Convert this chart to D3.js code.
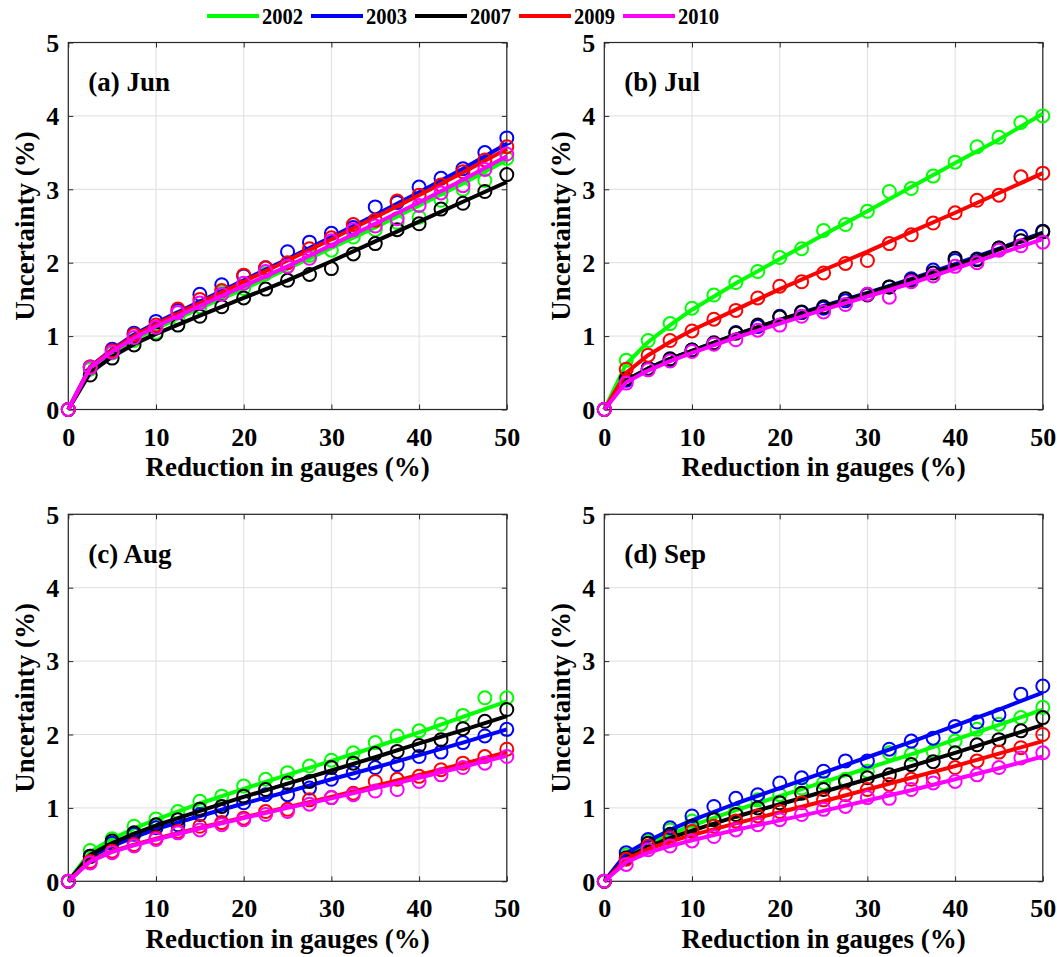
<!DOCTYPE html>
<html>
<head>
<meta charset="utf-8">
<script src="https://cdn.jsdelivr.net/npm/d3@7"></script>
<style>
  html, body { margin: 0; padding: 0; background: #ffffff; }
  svg { display: block; }
  text { font-family: "Liberation Serif", "Times New Roman", serif; font-weight: bold; fill: #000; }
</style>
</head>
<body>
<svg id="chart" width="1057" height="957"></svg>
<script>
// ---------------- data ----------------
const years = ["2002", "2003", "2007", "2009", "2010"];
const colors = ["#00ff00", "#0000ff", "#000000", "#ff0000", "#ff00ff"];
const panelLabels = ["(a) Jun", "(b) Jul", "(c) Aug", "(d) Sep"];
const xTicks = [0, 10, 20, 30, 40, 50];
const yTicks = [0, 1, 2, 3, 4, 5];
const xLabel = "Reduction in gauges (%)";
const yLabel = "Uncertainty (%)";

// observed points (circles)
const xPoints = [0, 2.5, 5, 7.5, 10, 12.5, 15, 17.5, 20, 22.5, 25, 27.5, 30, 32.5, 35, 37.5, 40, 42.5, 45, 47.5, 50];
// fitted curves (lines)
const xFit = [0, 2.5, 5, 7.5, 10, 15, 20, 25, 30, 35, 40, 45, 50];

const jun2002 = [0,0.55,0.77,0.94,1.05,1.25,1.40,1.60,1.65,1.85,1.95,2.10,2.17,2.35,2.45,2.55,2.62,2.85,3.00,3.12,3.42];
const jun2003 = [0,0.58,0.82,1.04,1.20,1.35,1.57,1.70,1.82,1.93,2.15,2.28,2.40,2.48,2.76,2.82,3.03,3.15,3.28,3.50,3.70];
const jun2007 = [0,0.47,0.70,0.88,1.03,1.15,1.27,1.40,1.52,1.64,1.76,1.84,1.92,2.12,2.26,2.45,2.53,2.73,2.81,2.97,3.20];
const jun2009 = [0,0.58,0.80,1.02,1.15,1.37,1.50,1.62,1.83,1.93,2.00,2.19,2.34,2.52,2.58,2.84,2.92,3.06,3.24,3.40,3.58];
const jun2010 = [0,0.57,0.78,0.98,1.12,1.32,1.45,1.57,1.72,1.88,1.95,2.06,2.30,2.45,2.50,2.60,2.78,2.95,3.05,3.27,3.48];
const jun2002Fit = [0,0.55,0.77,0.95,1.10,1.38,1.64,1.92,2.20,2.48,2.78,3.08,3.40];
const jun2003Fit = [0,0.58,0.82,1.02,1.18,1.47,1.76,2.05,2.35,2.65,2.96,3.28,3.62];
const jun2007Fit = [0,0.50,0.72,0.89,1.03,1.28,1.52,1.76,2.02,2.29,2.56,2.83,3.10];
const jun2009Fit = [0,0.58,0.81,1.00,1.16,1.45,1.74,2.03,2.32,2.62,2.92,3.23,3.55];
const jun2010Fit = [0,0.57,0.79,0.97,1.13,1.41,1.68,1.95,2.24,2.53,2.82,3.13,3.45];

const jul2002 = [0,0.67,0.94,1.17,1.38,1.56,1.73,1.88,2.07,2.19,2.44,2.52,2.70,2.97,3.01,3.18,3.37,3.58,3.71,3.91,4.00];
const jul2003 = [0,0.40,0.56,0.68,0.81,0.90,1.05,1.13,1.27,1.32,1.38,1.48,1.57,1.67,1.78,1.90,2.03,2.05,2.20,2.36,2.43];
const jul2007 = [0,0.42,0.56,0.69,0.81,0.91,1.04,1.15,1.26,1.33,1.40,1.51,1.56,1.67,1.76,1.86,2.06,2.04,2.20,2.30,2.42];
const jul2009 = [0,0.55,0.74,0.94,1.07,1.23,1.35,1.52,1.68,1.74,1.86,1.99,2.03,2.26,2.38,2.54,2.68,2.85,2.92,3.17,3.22];
const jul2010 = [0,0.36,0.54,0.66,0.79,0.89,0.95,1.08,1.15,1.27,1.33,1.43,1.57,1.53,1.74,1.82,1.95,2.00,2.17,2.23,2.28];
const jul2002Fit = [0,0.62,0.92,1.15,1.36,1.72,2.05,2.38,2.70,3.03,3.36,3.68,4.03];
const jul2003Fit = [0,0.40,0.56,0.69,0.80,1.02,1.22,1.41,1.59,1.78,1.98,2.19,2.41];
const jul2007Fit = [0,0.40,0.56,0.69,0.80,1.02,1.22,1.40,1.58,1.77,1.96,2.18,2.40];
const jul2009Fit = [0,0.50,0.74,0.92,1.08,1.36,1.64,1.90,2.15,2.42,2.68,2.95,3.22];
const jul2010Fit = [0,0.37,0.53,0.66,0.77,0.98,1.17,1.36,1.54,1.72,1.92,2.12,2.32];

const aug2002 = [0,0.42,0.58,0.75,0.85,0.95,1.09,1.16,1.30,1.39,1.48,1.57,1.65,1.75,1.89,1.98,2.05,2.14,2.26,2.50,2.50];
const aug2003 = [0,0.34,0.52,0.64,0.73,0.77,0.91,0.95,1.07,1.18,1.18,1.27,1.39,1.48,1.55,1.59,1.70,1.76,1.89,1.98,2.07];
const aug2007 = [0,0.34,0.55,0.66,0.77,0.84,0.98,1.02,1.16,1.25,1.34,1.36,1.55,1.61,1.74,1.77,1.85,1.93,2.08,2.18,2.34];
const aug2009 = [0,0.27,0.41,0.50,0.59,0.68,0.75,0.80,0.86,0.95,0.98,1.11,1.14,1.20,1.36,1.39,1.43,1.52,1.61,1.70,1.80];
const aug2010 = [0,0.25,0.39,0.48,0.57,0.66,0.70,0.77,0.84,0.91,0.95,1.05,1.14,1.18,1.23,1.25,1.36,1.45,1.55,1.61,1.70];
const aug2002Fit = [0,0.40,0.58,0.72,0.84,1.06,1.26,1.45,1.64,1.83,2.03,2.24,2.45];
const aug2003Fit = [0,0.33,0.48,0.60,0.71,0.89,1.06,1.22,1.39,1.55,1.72,1.89,2.07];
const aug2007Fit = [0,0.36,0.52,0.65,0.76,0.96,1.15,1.33,1.51,1.69,1.88,2.06,2.25];
const aug2009Fit = [0,0.28,0.41,0.50,0.58,0.73,0.87,1.01,1.15,1.30,1.45,1.60,1.76];
const aug2010Fit = [0,0.27,0.40,0.49,0.57,0.72,0.86,1.00,1.13,1.27,1.41,1.56,1.71];

const sep2002 = [0,0.36,0.55,0.70,0.82,0.86,0.95,1.11,1.18,1.27,1.34,1.39,1.50,1.75,1.73,1.77,1.91,2.07,2.14,2.23,2.37];
const sep2003 = [0,0.39,0.57,0.73,0.89,1.02,1.13,1.18,1.34,1.41,1.50,1.64,1.64,1.80,1.91,1.95,2.11,2.17,2.27,2.55,2.66];
const sep2007 = [0,0.32,0.52,0.64,0.75,0.84,0.91,1.00,1.07,1.20,1.25,1.36,1.41,1.45,1.59,1.63,1.75,1.86,1.93,2.05,2.23];
const sep2009 = [0,0.30,0.48,0.59,0.68,0.75,0.82,0.89,0.95,1.07,1.11,1.18,1.25,1.32,1.39,1.41,1.55,1.64,1.76,1.82,2.00];
const sep2010 = [0,0.23,0.43,0.48,0.55,0.61,0.70,0.77,0.84,0.91,0.98,1.02,1.14,1.13,1.25,1.34,1.36,1.45,1.55,1.68,1.75];
const sep2002Fit = [0,0.35,0.51,0.64,0.76,0.97,1.16,1.35,1.54,1.73,1.93,2.13,2.34];
const sep2003Fit = [0,0.38,0.55,0.70,0.83,1.06,1.27,1.48,1.69,1.90,2.12,2.34,2.57];
const sep2007Fit = [0,0.32,0.47,0.59,0.69,0.88,1.05,1.22,1.39,1.57,1.75,1.94,2.13];
const sep2009Fit = [0,0.30,0.44,0.54,0.63,0.79,0.94,1.09,1.25,1.41,1.57,1.74,1.91];
const sep2010Fit = [0,0.26,0.39,0.48,0.56,0.70,0.83,0.96,1.10,1.24,1.39,1.54,1.70];

const panelPoints = [
  [jun2002, jun2003, jun2007, jun2009, jun2010],
  [jul2002, jul2003, jul2007, jul2009, jul2010],
  [aug2002, aug2003, aug2007, aug2009, aug2010],
  [sep2002, sep2003, sep2007, sep2009, sep2010]
];
const panelFits = [
  [jun2002Fit, jun2003Fit, jun2007Fit, jun2009Fit, jun2010Fit],
  [jul2002Fit, jul2003Fit, jul2007Fit, jul2009Fit, jul2010Fit],
  [aug2002Fit, aug2003Fit, aug2007Fit, aug2009Fit, aug2010Fit],
  [sep2002Fit, sep2003Fit, sep2007Fit, sep2009Fit, sep2010Fit]
];

// ---------------- layout ----------------
const svg = d3.select("#chart");
svg.append("rect").attr("width", 1057).attr("height", 957).attr("fill", "#fff");

const plotW = 438.5, plotH = 367;
const origins = [[68.3, 42.5], [604.3, 42.5], [68.3, 514.3], [604.3, 514.3]];
const x = d3.scaleLinear().domain([0, 50]).range([0, plotW]);
const y = d3.scaleLinear().domain([0, 5]).range([plotH, 0]);
const axisColor = "#262626";
const tickFont = 26;
const titleFont = 27;

origins.forEach((o, p) => {
  const g = svg.append("g").attr("transform", `translate(${o[0]},${o[1]})`);

  // grid
  g.append("g").selectAll("line").data(xTicks).join("line")
    .attr("x1", d => x(d)).attr("x2", d => x(d)).attr("y1", 0).attr("y2", plotH)
    .attr("stroke", "#dedede").attr("stroke-width", 1);
  g.append("g").selectAll("line").data(yTicks).join("line")
    .attr("y1", d => y(d)).attr("y2", d => y(d)).attr("x1", 0).attr("x2", plotW)
    .attr("stroke", "#dedede").attr("stroke-width", 1);

  // axes with inward ticks
  const ax = g.append("g").attr("transform", `translate(0,${plotH})`)
    .call(d3.axisBottom(x).tickValues(xTicks).tickSize(-5).tickPadding(0).tickFormat(d3.format("d")));
  ax.selectAll("text").attr("dy", null).attr("y", 36).style("font-size", tickFont + "px");
  const ay = g.append("g")
    .call(d3.axisLeft(y).tickValues(yTicks).tickSize(-5).tickPadding(9).tickFormat(d3.format("d")));
  ay.selectAll("text").attr("dy", "0.34em").style("font-size", tickFont + "px");
  const at = g.append("g").call(d3.axisTop(x).tickValues(xTicks).tickSize(-5).tickFormat(""));
  const ar = g.append("g").attr("transform", `translate(${plotW},0)`)
    .call(d3.axisRight(y).tickValues(yTicks).tickSize(-5).tickFormat(""));
  [ax, ay, at, ar].forEach(a => {
    a.select(".domain").remove();
    a.selectAll("line").attr("stroke", axisColor);
    a.selectAll("text").attr("fill", "#000").style("font-family", '"Liberation Serif", serif').style("font-weight", "bold");
  });

  // box
  g.append("rect").attr("width", plotW).attr("height", plotH)
    .attr("fill", "none").attr("stroke", axisColor).attr("stroke-width", 1.2);

  // series
  const line = d3.line().x(d => x(d[0])).y(d => y(d[1]));
  years.forEach((yr, s) => {
    const fit = xFit.map((xv, i) => [xv, panelFits[p][s][i]]);
    const pts = xPoints.map((xv, i) => [xv, panelPoints[p][s][i]]);
    g.append("path").datum(fit).attr("d", line)
      .attr("fill", "none").attr("stroke", colors[s]).attr("stroke-width", 4)
      .attr("stroke-linejoin", "round");
    g.append("g").selectAll("circle").data(pts).join("circle")
      .attr("cx", d => x(d[0])).attr("cy", d => y(d[1])).attr("r", 6.5)
      .attr("fill", "none").attr("stroke", colors[s]).attr("stroke-width", 2);
  });

  // panel label
  g.append("text").attr("x", 20).attr("y", 48.5)
    .style("font-size", titleFont + "px").text(panelLabels[p]);

  // axis titles
  g.append("text").attr("x", plotW / 2).attr("y", plotH + 66.5)
    .attr("text-anchor", "middle").style("font-size", titleFont + "px").text(xLabel);
  g.append("text").attr("transform", `translate(-34,${plotH / 2}) rotate(-90)`)
    .attr("text-anchor", "middle").style("font-size", titleFont + "px").text(yLabel);
});

// legend
const legendX = d3.scaleLinear().domain([0, 4]).range([207, 623]);
const lg = svg.append("g");
years.forEach((yr, i) => {
  const lx = legendX(i);
  lg.append("line").attr("x1", lx).attr("x2", lx + 52).attr("y1", 16).attr("y2", 16)
    .attr("stroke", colors[i]).attr("stroke-width", 4);
  lg.append("text").attr("x", lx + 55).attr("y", 23.5)
    .attr("textLength", 41).attr("lengthAdjust", "spacingAndGlyphs")
    .style("font-size", "24px").text(yr);
});
</script>
</body>
</html>
